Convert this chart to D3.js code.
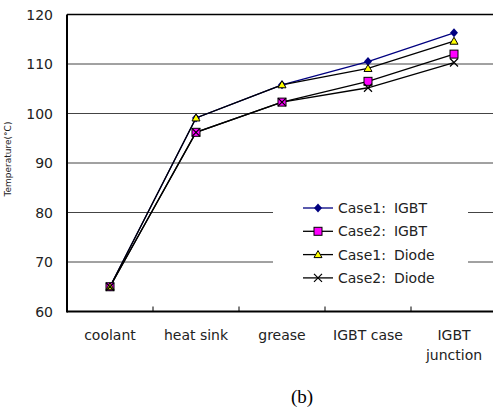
<!DOCTYPE html>
<html>
<head>
<meta charset="utf-8">
<script src="https://cdn.jsdelivr.net/npm/d3@7"></script>
<style>
  body { margin: 0; background: #fff; }
  svg { display: block; font-family: "DejaVu Sans", sans-serif; }
</style>
</head>
<body>
<div id="chart"></div>
<script>
// categories along the x axis
var categories = ["coolant", "heat sink", "grease", "IGBT case", "IGBT junction"];

// series values (temperature, °C)
var case1Igbt  = [65, 99.1, 105.8, 110.5, 116.3];
var case2Igbt  = [65, 96.2, 102.3, 106.5, 112.0];
var case1Diode = [65, 99.1, 105.8, 109.1, 114.6];
var case2Diode = [65, 96.2, 102.3, 105.2, 110.3];

var yTicks = [60, 70, 80, 90, 100, 110, 120];

var seriesCase = ["Case1", "Case2", "Case1", "Case2"];
var seriesPart = ["IGBT", "IGBT", "Diode", "Diode"];

var width = 493,
    height = 412,
    margin = { top: 14.5, right: -4, bottom: 100, left: 67 };

var series = [
    { values: case1Igbt,  line: "#000080", marker: "diamond" },
    { values: case2Igbt,  line: "#000000", marker: "square" },
    { values: case1Diode, line: "#000000", marker: "triangle" },
    { values: case2Diode, line: "#000000", marker: "cross" }
];

var svg = d3.select("#chart").append("svg")
    .attr("width", width)
    .attr("height", height);

var x = d3.scaleBand()
    .domain(categories)
    .range([margin.left, width - margin.right]);

var y = d3.scaleLinear()
    .domain([60, 120])
    .range([311.5, margin.top]);

// gridlines
svg.append("g")
    .selectAll("line")
    .data(yTicks.slice(1))
    .enter()
    .append("line")
    .attr("x1", margin.left)
    .attr("x2", width)
    .attr("y1", d => y(d))
    .attr("y2", d => y(d))
    .attr("stroke", d => d === 120 ? "#000" : "#444")
    .attr("stroke-width", d => d === 120 ? 1.5 : 1);

// y tick labels
svg.append("g")
    .selectAll("text")
    .data(yTicks)
    .enter()
    .append("text")
    .attr("x", 53)
    .attr("y", d => y(d) + 5)
    .attr("text-anchor", "end")
    .attr("font-size", 14)
    .attr("fill", "#222")
    .text(d => d);

// y axis line
svg.append("line")
    .attr("x1", margin.left).attr("x2", margin.left)
    .attr("y1", y(120)).attr("y2", y(60) + 1)
    .attr("stroke", "#000").attr("stroke-width", 2);

// x axis with ticks between categories
svg.append("line")
    .attr("x1", margin.left).attr("x2", width)
    .attr("y1", y(60)).attr("y2", y(60))
    .attr("stroke", "#000").attr("stroke-width", 2);

svg.append("g")
    .selectAll("line")
    .data(categories.slice(1))
    .enter()
    .append("line")
    .attr("x1", d => x(d))
    .attr("x2", d => x(d))
    .attr("y1", y(60))
    .attr("y2", y(60) - 5)
    .attr("stroke", "#000");

// category labels (wrap the last label onto two lines)
var catLabel = svg.append("g")
    .selectAll("text")
    .data(categories)
    .enter()
    .append("text")
    .attr("x", d => x(d) + x.bandwidth() / 2)
    .attr("y", 340)
    .attr("text-anchor", "middle")
    .attr("font-size", 14)
    .attr("fill", "#222");

catLabel.each(function (d, i) {
    var t = d3.select(this);
    if (i === categories.length - 1) {
        var parts = d.split(" ");
        t.append("tspan").attr("x", x(d) + x.bandwidth() / 2).text(parts[0]);
        t.append("tspan").attr("x", x(d) + x.bandwidth() / 2).attr("dy", 20).text(parts[1]);
    } else {
        t.text(d);
    }
});

// y axis title
svg.append("text")
    .attr("transform", "translate(11,159) rotate(-90)")
    .attr("text-anchor", "middle")
    .attr("font-size", 9)
    .attr("fill", "#222")
    .text("Temperature(°C)");

// legend background (hides gridlines)
svg.append("rect")
    .attr("x", 273).attr("y", 194)
    .attr("width", 195).attr("height", 96)
    .attr("fill", "#fff");

var line = d3.line()
    .x((d, i) => x(categories[i]) + x.bandwidth() / 2)
    .y(d => y(d));

function drawMarker(g, type, cx, cy) {
    if (type === "diamond") {
        g.append("path")
            .attr("d", "M" + cx + "," + (cy - 4.5) + "L" + (cx + 4) + "," + cy + "L" + cx + "," + (cy + 4.5) + "L" + (cx - 4) + "," + cy + "Z")
            .attr("fill", "#000080");
    } else if (type === "square") {
        g.append("rect")
            .attr("x", cx - 4).attr("y", cy - 4)
            .attr("width", 8).attr("height", 8)
            .attr("fill", "#ff00ff").attr("stroke", "#000").attr("stroke-width", 1);
    } else if (type === "triangle") {
        g.append("path")
            .attr("d", "M" + cx + "," + (cy - 4) + "L" + (cx + 4) + "," + (cy + 3) + "L" + (cx - 4) + "," + (cy + 3) + "Z")
            .attr("fill", "#ffff00").attr("stroke", "#000").attr("stroke-width", 1);
    } else {
        g.append("path")
            .attr("d", "M" + (cx - 4) + "," + (cy - 4) + "L" + (cx + 4) + "," + (cy + 4) + "M" + (cx + 4) + "," + (cy - 4) + "L" + (cx - 4) + "," + (cy + 4))
            .attr("stroke", "#000").attr("stroke-width", 1.2);
    }
}

// lines first, then markers, in series order
series.forEach(function (s) {
    svg.append("path")
        .datum(s.values)
        .attr("d", line)
        .attr("fill", "none")
        .attr("stroke", s.line)
        .attr("stroke-width", 1.3);
});
series.forEach(function (s) {
    var g = svg.append("g");
    s.values.forEach(function (v, i) {
        drawMarker(g, s.marker, x(categories[i]) + x.bandwidth() / 2, y(v));
    });
});

// legend
var legend = svg.append("g");
series.forEach(function (s, i) {
    var ly = 208 + i * 23.3;
    legend.append("line")
        .attr("x1", 303).attr("x2", 333)
        .attr("y1", ly).attr("y2", ly)
        .attr("stroke", s.line).attr("stroke-width", 1.3);
    drawMarker(legend, s.marker, 318, ly);
    var t = legend.append("text")
        .attr("x", 338)
        .attr("y", ly + 5)
        .attr("font-size", 14)
        .attr("fill", "#222");
    t.append("tspan").text(seriesCase[i] + ":");
    t.append("tspan").attr("dx", 8).text(seriesPart[i]);
});

// caption
svg.append("text")
    .attr("x", 302)
    .attr("y", 403)
    .attr("text-anchor", "middle")
    .attr("font-family", "'Liberation Serif', 'Times New Roman', serif")
    .attr("font-size", 19)
    .attr("fill", "#000")
    .text("(b)");
</script>
</body>
</html>
